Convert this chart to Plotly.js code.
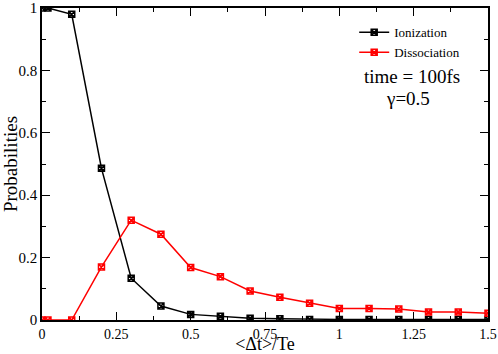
<!DOCTYPE html>
<html>
<head>
<meta charset="utf-8">
<script src="https://cdn.plot.ly/plotly-3.0.1.min.js"></script>
<style>
body{margin:0;padding:0;background:#fff}
#chart{width:498px;height:354px}
</style>
</head>
<body>
<div id="chart"></div>
<script>
// delay values (<dt>/Te)
var delays = [0, 0.02, 0.1, 0.2, 0.3, 0.4, 0.5, 0.6, 0.7, 0.8, 0.9, 1.0, 1.1, 1.2, 1.3, 1.4, 1.5];
// probabilities
var ionization = [1.0, 1.0, 0.98, 0.486, 0.134, 0.045, 0.018, 0.012, 0.006, 0.004, 0.002, 0.002, 0.002, 0.002, 0.002, 0.002, 0.002];
var dissociation = [0, 0, 0, 0.17, 0.32, 0.275, 0.168, 0.139, 0.093, 0.073, 0.054, 0.037, 0.037, 0.035, 0.026, 0.026, 0.022];
var xTicks = [0, 0.25, 0.5, 0.75, 1, 1.25, 1.5];
var yTicks = [0, 0.2, 0.4, 0.6, 0.8, 1];

var serif = "Liberation Serif";

var traceIon = {
  x: delays, y: ionization, name: "Ionization",
  mode: "lines+markers",
  line: {color: "black", width: 1.5},
  marker: {symbol: "square-x-open", size: 6, color: "black", line: {width: 1.5}}
};
var traceDis = {
  x: delays, y: dissociation, name: "Dissociation",
  mode: "lines+markers",
  line: {color: "red", width: 1.5},
  marker: {symbol: "square-x-open", size: 6, color: "red", line: {width: 1.5}}
};

var layout = {
  width: 498, height: 354,
  margin: {l: 42, r: 10, t: 8, b: 34},
  paper_bgcolor: "white", plot_bgcolor: "white",
  font: {family: serif, color: "black"},
  showlegend: true,
  legend: {x: 0.7, y: 0.97, xanchor: "left", yanchor: "top", bgcolor: "rgba(0,0,0,0)",
           font: {size: 13, family: serif}, tracegroupgap: 0},
  xaxis: {
    range: [0, 1.5], tickvals: xTicks, ticktext: xTicks.map(String),
    showgrid: false, zeroline: false,
    showline: true, linecolor: "black", linewidth: 1.5, mirror: "ticks",
    ticks: "inside", ticklen: 8, tickcolor: "black",
    minor: {dtick: 0.125, tick0: 0, ticks: "inside", ticklen: 4, tickcolor: "black", showgrid: false},
    tickfont: {size: 14, family: serif},
    title: {text: "&lt;Δt&gt;/Te", font: {size: 18, family: serif}, standoff: 10}
  },
  yaxis: {
    range: [0, 1], tickvals: yTicks, ticktext: yTicks.map(String),
    showgrid: false, zeroline: false,
    showline: true, linecolor: "black", linewidth: 1.5, mirror: "ticks",
    ticks: "inside", ticklen: 8, tickcolor: "black",
    minor: {dtick: 0.1, tick0: 0, ticks: "inside", ticklen: 4, tickcolor: "black", showgrid: false},
    tickfont: {size: 15, family: serif},
    title: {text: "Probabilities", font: {size: 19, family: serif}, standoff: 6}
  },
  annotations: [
    {xref: "paper", yref: "paper", x: 0.83, y: 0.78, xanchor: "center", yanchor: "middle",
     text: "time = 100fs", showarrow: false, font: {size: 19, family: serif}},
    {xref: "paper", yref: "paper", x: 0.82, y: 0.71, xanchor: "center", yanchor: "middle",
     text: "γ=0.5", showarrow: false, font: {size: 19, family: serif}}
  ]
};

Plotly.newPlot("chart", [traceIon, traceDis], layout, {displayModeBar: false});
</script>
</body>
</html>
